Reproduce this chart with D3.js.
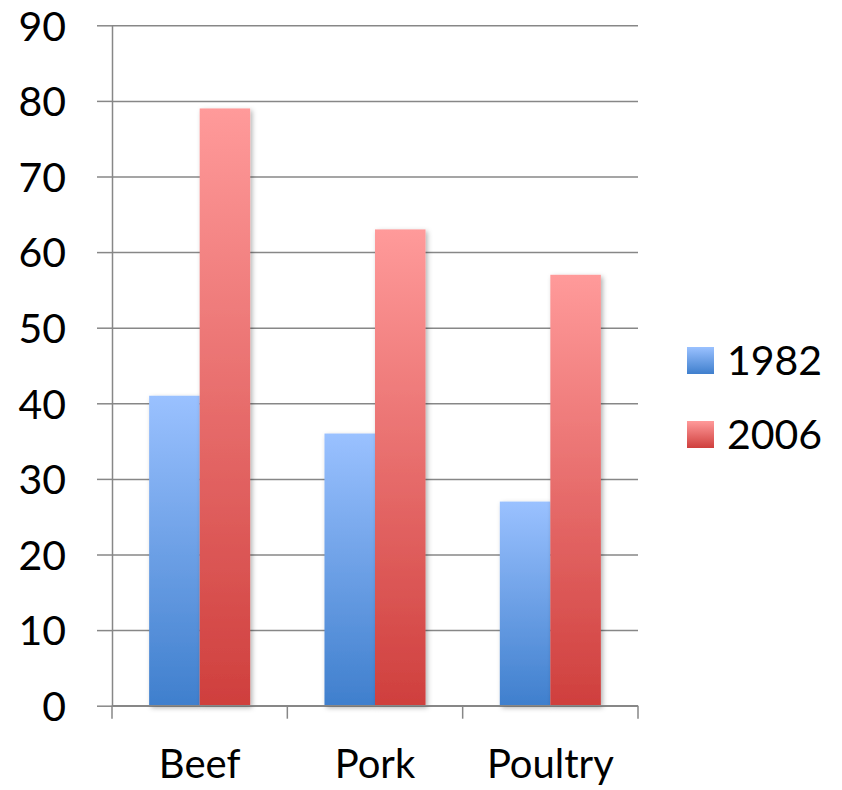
<!DOCTYPE html>
<html><head><meta charset="utf-8">
<script src="https://cdn.jsdelivr.net/npm/d3@7"></script>
<style>body{margin:0;background:#fff}svg{display:block}text{font-family:Lato,"Open Sans",sans-serif;fill:#000}</style>
</head><body>
<script>
const categories = ["Beef","Pork","Poultry"];
const seriesNames = ["1982","2006"];
const values1982 = [41,36,27];
const values2006 = [79,63,57];
const yTicks = [0,10,20,30,40,50,60,70,80,90];

const W=842,H=790;
const svg=d3.select("body").append("svg").attr("width",W).attr("height",H);
const defs=svg.append("defs");
const grads=[["g1982","#9ac1ff","#3f7fcd"],["g2006","#ff9a9a","#cf3f3d"]];
grads.forEach(([id,top,bot])=>{
  const g=defs.append("linearGradient").attr("id",id).attr("x1",0).attr("y1",0).attr("x2",0).attr("y2",1);
  g.append("stop").attr("offset","0%").attr("stop-color",top);
  g.append("stop").attr("offset","100%").attr("stop-color",bot);
});
const f=defs.append("filter").attr("id","sh").attr("x","-20%").attr("y","-5%").attr("width","150%").attr("height","120%");
f.append("feDropShadow").attr("dx",2).attr("dy",2).attr("stdDeviation",2.5).attr("flood-color","#000").attr("flood-opacity",0.3);

const x0=112,x1=638,yTop=25.3,yBot=705.7;
const y=d3.scaleLinear().domain([0,90]).range([yBot,yTop]);
const x=d3.scaleBand().domain(categories).range([x0,x1]).paddingInner(0).paddingOuter(0);
const xs=d3.scaleBand().domain(seriesNames).range([0,x.bandwidth()]).paddingInner(0).paddingOuter(0.735);

// gridlines
const gy=svg.append("g").attr("transform",`translate(${x0},0)`)
 .call(d3.axisLeft(y).tickValues(yTicks).tickSize(-(x1-x0)).tickFormat(""));
gy.selectAll(".tick line").attr("stroke","#878787").attr("stroke-width",1.5);
gy.select(".domain").remove();
// y axis with outer ticks
const ya=svg.append("g").attr("transform",`translate(${x0},0)`)
 .call(d3.axisLeft(y).tickValues(yTicks).tickSize(15).tickSizeOuter(0).tickPadding(31));
ya.select(".domain").attr("stroke","#878787").attr("stroke-width",1.5);
ya.selectAll(".tick line").attr("stroke","#878787").attr("stroke-width",1.5);
ya.selectAll(".tick text").style("font-size","41px").attr("dy","0.36em").attr("fill","#000");

// bars
const data=categories.map((c,i)=>({c,v:[values1982[i],values2006[i]]}));
const gb=svg.append("g");
data.forEach(d=>{
  seriesNames.forEach((s,j)=>{
    gb.append("rect").attr("x",x(d.c)+xs(s)).attr("width",xs.bandwidth())
      .attr("y",y(d.v[j])).attr("height",yBot-y(d.v[j]))
      .attr("fill",`url(#g${s})`).attr("filter","url(#sh)");
  });
});

// x axis
const xa=svg.append("g").attr("transform",`translate(0,${yBot})`)
 .call(d3.axisBottom(x).tickSize(0).tickPadding(44));
xa.select(".domain").attr("stroke","#878787").attr("stroke-width",1.5).attr("d",`M${x0},0H${x1}`);
xa.selectAll(".tick text").style("font-size","40px").attr("dy","0.71em");
const bounds=[x0,...categories.map(c=>x(c)+x.bandwidth())];
xa.selectAll(".bt").data(bounds).enter().append("line").attr("class","bt")
 .attr("x1",d=>d).attr("x2",d=>d).attr("y1",0).attr("y2",13).attr("stroke","#878787").attr("stroke-width",1.5);

// legend
const lg=svg.append("g");
seriesNames.forEach((s,i)=>{
  const yy=347+i*74;
  lg.append("rect").attr("x",687).attr("y",yy).attr("width",27).attr("height",27).attr("fill",`url(#g${s})`);
  lg.append("text").attr("x",727).attr("y",yy+13.5).attr("dy","0.36em").style("font-size","41px").text(s);
});
</script>
</body></html>
